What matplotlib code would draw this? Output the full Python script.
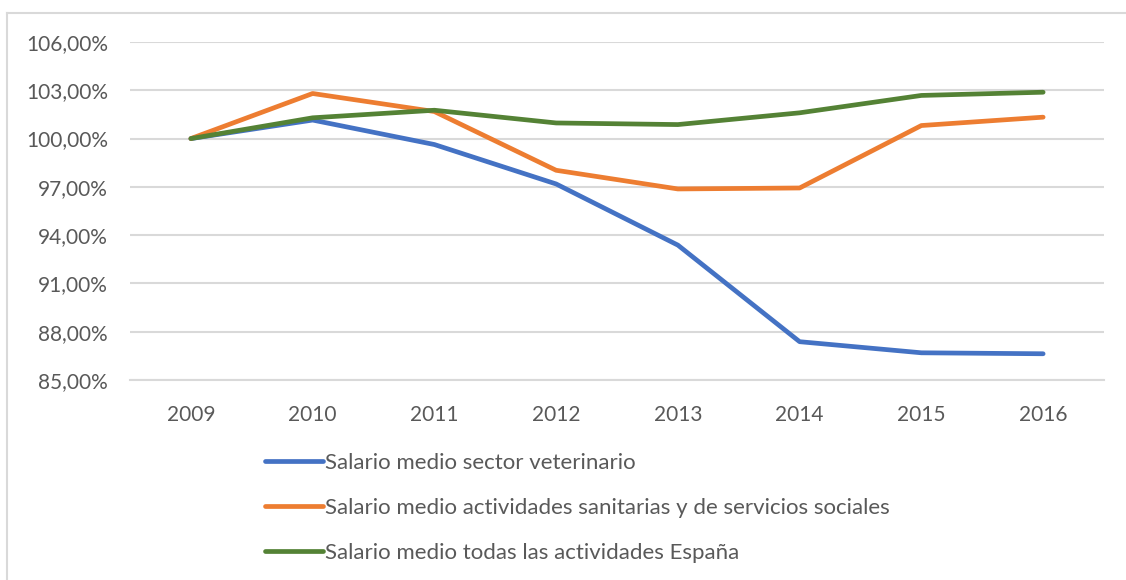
import matplotlib.pyplot as plt
from matplotlib.lines import Line2D
from matplotlib.ticker import FuncFormatter

# Datos (índice salarial, 2009 = 100%)
years = ["2009", "2010", "2011", "2012", "2013", "2014", "2015", "2016"]
veterinario = [100.0, 101.15, 99.63, 97.18, 93.38, 87.38, 86.69, 86.63]
sanitarias = [100.0, 102.8, 101.68, 98.03, 96.87, 96.93, 100.81, 101.33]
espana = [100.0, 101.29, 101.76, 100.97, 100.87, 101.6, 102.68, 102.88]

labels = [
    "Salario medio sector veterinario",
    "Salario medio actividades sanitarias y de servicios sociales",
    "Salario medio todas las actividades España",
]
colors = ["#4472C4", "#ED7D31", "#548235"]

plt.rcParams['font.family'] = ['Lato', 'DejaVu Sans']

W, H = 1126, 580
fig = plt.figure(figsize=(W / 100, H / 100), dpi=100)
ax = fig.add_axes([130 / W, 1 - 380 / H, (1104 - 130) / W, (380 - 42) / H])

x = range(len(years))
for serie, color, label in zip([veterinario, sanitarias, espana], colors, labels):
    ax.plot(x, serie, color=color, lw=3.4, solid_capstyle='round',
            solid_joinstyle='round', label=label)

ax.set_xlim(-0.5, len(years) - 0.5)
ax.set_ylim(85, 106)
ax.set_yticks([85, 88, 91, 94, 97, 100, 103, 106])
ax.yaxis.set_major_formatter(FuncFormatter(lambda v, p: f"{v:.2f}".replace(".", ",") + "%"))
ax.set_xticks(list(x))
ax.set_xticklabels(years)

ax.grid(axis='y', color='#D9D9D9', lw=1.5)
ax.set_axisbelow(True)
for s in ['top', 'right', 'left']:
    ax.spines[s].set_visible(False)
ax.spines['bottom'].set_color('#D9D9D9')
ax.spines['bottom'].set_linewidth(1.5)
ax.tick_params(axis='both', length=0, labelsize=15, labelcolor='#595959')
ax.tick_params(axis='y', pad=16)
ax.tick_params(axis='x', pad=18)

# Leyenda
fig.legend(loc='center left', bbox_to_anchor=(254 / W, 1 - 508 / H),
           frameon=False, fontsize=16, handlelength=2.6, handletextpad=0.1,
           labelspacing=1.13, borderpad=0, labelcolor='#595959')

# Borde del gráfico
fig.add_artist(Line2D([7 / W, 7 / W], [0, 1 - 13 / H], color='#D9D9D9', lw=1.5))
fig.add_artist(Line2D([7 / W, 1], [1 - 13 / H, 1 - 13 / H], color='#D9D9D9', lw=1.5))

fig.savefig("out.png", dpi=100)
